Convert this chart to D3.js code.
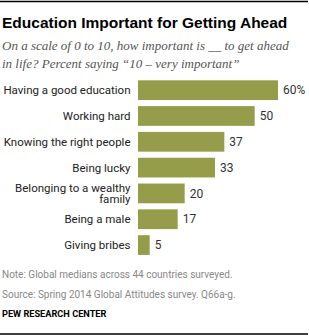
<!DOCTYPE html>
<html>
<head>
<meta charset="utf-8">
<script src="https://cdn.jsdelivr.net/npm/d3@7"></script>
<style>
  body { margin: 0; background: #fff; }
  text { font-family: Roboto, "Liberation Sans", Arial, sans-serif; }
</style>
</head>
<body>
<svg id="chart" width="309" height="336"></svg>
<script>
// data
var categories = [
    "Having a good education",
    "Working hard",
    "Knowing the right people",
    "Being lucky",
    "Belonging to a wealthy family",
    "Being a male",
    "Giving bribes"
];
var values = [60, 50, 37, 33, 20, 17, 5];
var labelLines = [
    ["Having a good education"],
    ["Working hard"],
    ["Knowing the right people"],
    ["Being lucky"],
    ["Belonging to a wealthy", "family"],
    ["Being a male"],
    ["Giving bribes"]
];

var barColor = "#959d4b";
var svg = d3.select("#chart");

// rules top and bottom
svg.append("line").attr("x1", 0).attr("x2", 308).attr("y1", 1.5).attr("y2", 1.5)
    .style("stroke", "#000").style("stroke-width", 1.5);
svg.append("line").attr("x1", 0).attr("x2", 308).attr("y1", 334).attr("y2", 334)
    .style("stroke", "#000").style("stroke-width", 1.5);

svg.append("text")
    .attr("x", 2).attr("y", 28)
    .style("font-family", "'Liberation Sans', Arial, sans-serif")
    .style("font-size", "15.5px").style("font-weight", "bold").style("fill", "#000")
    .text("Education Important for Getting Ahead");

var subtitle = ["On a scale of 0 to 10, how important is __ to get ahead",
                "in life? Percent saying \u201c10 \u2013 very important\u201d"];
svg.selectAll(".sub")
    .data(subtitle)
    .enter()
    .append("text")
    .attr("class", "sub")
    .attr("x", 2)
    .attr("y", function (d, i) { return 50 + 17.5 * i })
    .style("font-family", "'Liberation Serif', serif")
    .style("font-style", "italic")
    .style("font-size", "13px")
    .style("fill", "#555")
    .text(function (d) { return d });

var x = d3.scaleLinear().domain([0, 60]).range([138, 278]);
var y = d3.scaleBand().domain(categories).range([80.3, 254.9]).paddingInner(0.235).paddingOuter(0);

svg.selectAll(".bar")
    .data(values)
    .enter()
    .append("rect")
    .attr("class", "bar")
    .attr("x", x(0))
    .attr("y", function (d, i) { return y(categories[i]) })
    .attr("width", function (d) { return x(d) - x(0) })
    .attr("height", y.bandwidth())
    .style("fill", barColor);

svg.selectAll(".val")
    .data(values)
    .enter()
    .append("text")
    .attr("class", "val")
    .attr("x", function (d) { return x(d) + 5 })
    .attr("y", function (d, i) { return y(categories[i]) + y.bandwidth() / 2 })
    .attr("dy", "0.35em")
    .style("font-size", "12px")
    .style("fill", "#333")
    .text(function (d, i) { return i == 0 ? d + "%" : d });

// category labels, right aligned
var lab = svg.selectAll(".cat")
    .data(labelLines)
    .enter()
    .append("text")
    .attr("class", "cat")
    .attr("text-anchor", "end")
    .style("font-size", "11.5px")
    .style("fill", "#222");
lab.each(function (lines, i) {
    var mid = y(categories[i]) + y.bandwidth() / 2;
    var t = d3.select(this);
    lines.forEach(function (l, k) {
        t.append("tspan")
            .attr("x", 130.5)
            .attr("y", mid + (k - (lines.length - 1) / 2) * 11)
            .attr("dy", "0.35em")
            .text(l);
    });
});

svg.append("text").attr("x", 2).attr("y", 278)
    .style("font-size", "10px").style("fill", "#888")
    .text("Note: Global medians across 44 countries surveyed.");
svg.append("text").attr("x", 2).attr("y", 298)
    .style("font-size", "10px").style("fill", "#888")
    .text("Source: Spring 2014 Global Attitudes survey. Q66a-g.");
svg.append("text").attr("x", 2).attr("y", 317)
    .style("font-size", "9.2px").style("font-weight", "bold").style("fill", "#000")
    .text("PEW RESEARCH CENTER");
</script>
</body>
</html>
